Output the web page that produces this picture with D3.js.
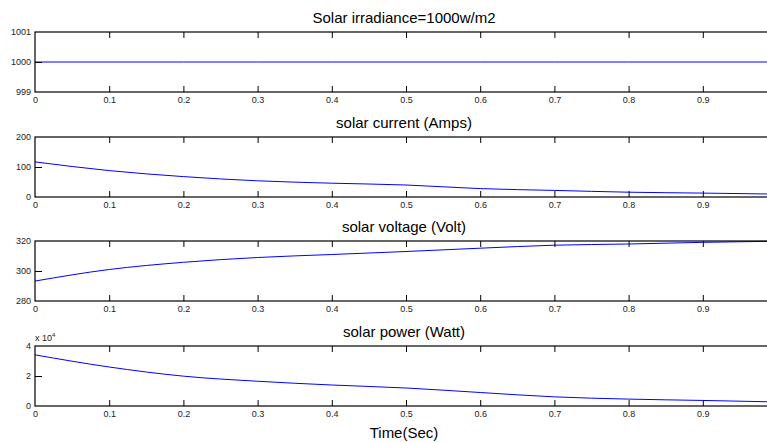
<!DOCTYPE html>
<html>
<head>
<meta charset="utf-8">
<script src="https://cdn.jsdelivr.net/npm/d3@7"></script>
<style>
  body { margin: 0; background: #fff; }
  svg { display: block; font-family: Arial, "Liberation Sans", sans-serif; }
</style>
</head>
<body>
<div id="chart"></div>
<script>
// values
var time = [0, 0.1, 0.2, 0.3, 0.4, 0.5, 0.6, 0.7, 0.8, 0.9, 0.99];
var irradiance = [1000, 1000, 1000, 1000, 1000, 1000, 1000, 1000, 1000, 1000, 1000];
var current = [117, 88, 68, 54, 46, 40, 28, 22, 16, 13, 10];
var voltage = [293.3, 301, 305.8, 309, 311, 313, 315.2, 317.2, 318, 319.1, 319.8];
var power = [34100, 26000, 19900, 16500, 14000, 12000, 9000, 6100, 4600, 3700, 2800];

var xTicks = [0, 0.1, 0.2, 0.3, 0.4, 0.5, 0.6, 0.7, 0.8, 0.9];
var titles = ["Solar irradiance=1000w/m2", "solar current (Amps)", "solar voltage (Volt)", "solar power (Watt)"];
var yDomains = [[999, 1001], [0, 200], [280, 320], [0, 4]];
var yTicks = [[999, 1000, 1001], [0, 100, 200], [280, 300, 320], [0, 2, 4]];
var series = [irradiance, current, voltage, power.map(function(p) { return p / 1e4; })];

var width = 767, height = 443;
var left = 35, right = 773;
var tops = [32, 137, 241, 346], ph = 60;

var svg = d3.select("#chart").append("svg")
    .attr("width", width)
    .attr("height", height);

var x = d3.scaleLinear().domain([0, 1]).range([left, left + 742]);

tops.forEach(function(top, i) {
  var y = d3.scaleLinear().domain(yDomains[i]).range([top + ph, top]);
  var g = svg.append("g");

  // curve
  g.append("path")
    .datum(time.map(function(t, k) { return [t, series[i][k]]; }))
    .attr("fill", "none")
    .attr("stroke", "#0000ff")
    .attr("stroke-width", 1)
    .attr("d", d3.line()
      .x(function(d) { return x(d[0]); })
      .y(function(d) { return y(d[1]); })
      .curve(d3.curveMonotoneX));

  // bottom axis with labels, ticks pointing in
  var bx = g.append("g")
    .attr("transform", "translate(0," + (top + ph) + ")")
    .call(d3.axisBottom(x).tickValues(xTicks).tickFormat(d3.format("")).tickSizeInner(-6).tickSizeOuter(0).tickPadding(5));
  // top axis, ticks only
  var tx = g.append("g")
    .attr("transform", "translate(0," + top + ")")
    .call(d3.axisTop(x).tickValues(xTicks).tickFormat("").tickSizeInner(-6).tickSizeOuter(0));
  // left axis
  var ly = g.append("g")
    .attr("transform", "translate(" + left + ",0)")
    .call(d3.axisLeft(y).tickValues(yTicks[i]).tickFormat(d3.format("")).tickSizeInner(-7).tickSizeOuter(0).tickPadding(4));

  [bx, tx, ly].forEach(function(a) {
    a.select(".domain").remove();
    a.selectAll("line").attr("stroke", "#000");
    a.selectAll("text").attr("font-size", 9).attr("fill", "#222").attr("font-family", null);
  });
  bx.selectAll(".tick").filter(function(d) { return d === 0; }).select("line").remove();
  tx.selectAll(".tick").filter(function(d) { return d === 0; }).select("line").remove();
  ly.selectAll(".tick").filter(function(d, k) { return k !== 1; }).select("line").remove();

  // frame
  g.append("rect")
    .attr("x", left)
    .attr("y", top)
    .attr("width", right - left)
    .attr("height", ph)
    .attr("fill", "none")
    .attr("stroke", "#000")
    .attr("stroke-width", 1.2);

  g.append("text")
    .attr("x", (left + right) / 2)
    .attr("y", top - 9)
    .attr("text-anchor", "middle")
    .attr("font-size", 15)
    .text(titles[i]);
});

// exponent label of the power plot
var ex = svg.append("text")
  .attr("x", 35)
  .attr("y", tops[3] - 5)
  .attr("font-size", 9)
  .attr("fill", "#222");
ex.append("tspan").text("x 10");
ex.append("tspan").attr("font-size", 6).attr("dy", -4).text("4");

svg.append("text")
  .attr("x", (left + right) / 2)
  .attr("y", 438)
  .attr("text-anchor", "middle")
  .attr("font-size", 15)
  .text("Time(Sec)");
</script>
</body>
</html>
